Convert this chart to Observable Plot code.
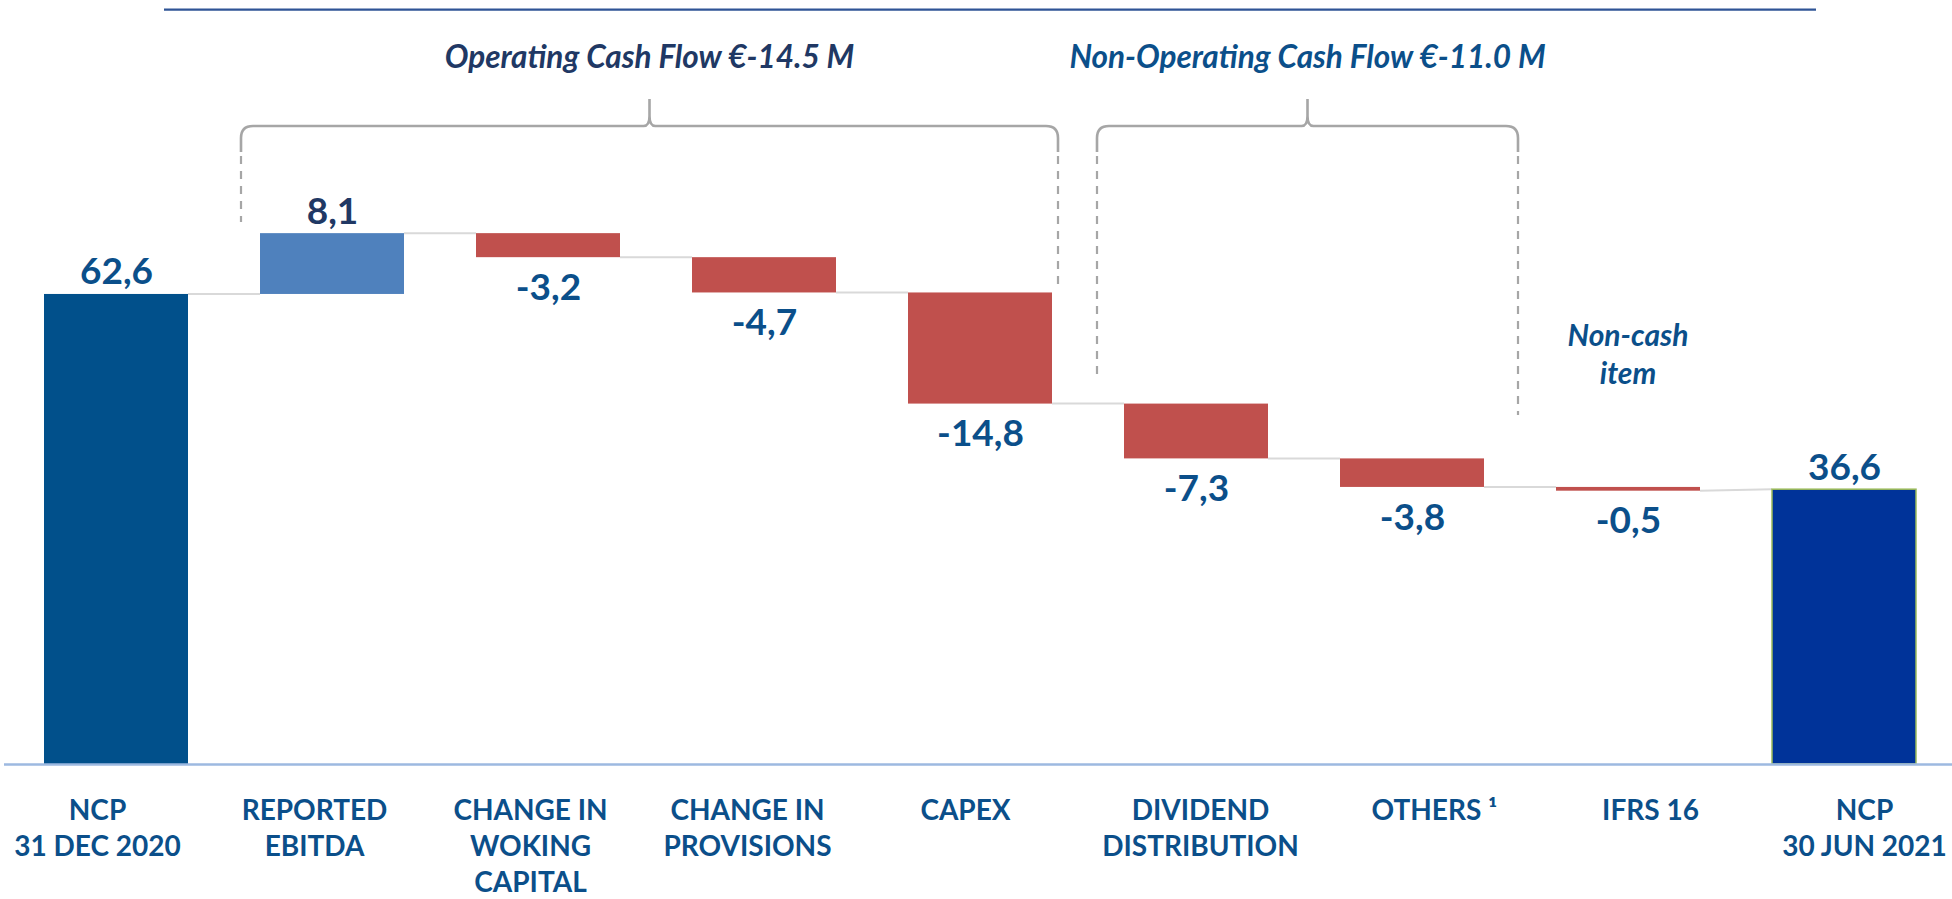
<!DOCTYPE html>
<html><head><meta charset="utf-8">
<script src="https://cdn.jsdelivr.net/npm/d3@7"></script>
<script src="https://cdn.jsdelivr.net/npm/@observablehq/plot@0.6"></script>
<style>
html,body{margin:0;padding:0;background:#fff;overflow:hidden}
#chart svg{display:block}
</style></head><body><div id="chart"></div>
<script>
// ---- data ----
const categories = ["NCP\n31 DEC 2020", "REPORTED\nEBITDA", "CHANGE IN\nWOKING\nCAPITAL", "CHANGE IN\nPROVISIONS", "CAPEX", "DIVIDEND\nDISTRIBUTION", "OTHERS \u00B9", "IFRS 16", "NCP\n30 JUN 2021"];
const values = [62.6, 8.1, -3.2, -4.7, -14.8, -7.3, -3.8, -0.5, 36.6];
const kinds = ["start", "up", "down", "down", "down", "down", "down", "down", "end"];
const groupTitles = ["Operating Cash Flow \u20AC-14.5 M", "Non-Operating Cash Flow \u20AC-11.0 M"];
const noteLines = ["Non-cash", "item"];

// ---- styles ----
const fills = {start: "#01508B", up: "#4F81BD", down: "#C0504D", end: "#003399"};
const blue = "#0B4F8A", navy = "#203864";
const fmt = v => v.toFixed(1).replace(".", ",");
const labelDx = [-19, -18, -18, -17, -15, 4, 22, 22, 20];
const FONT = "Lato, 'Open Sans', sans-serif";

// ---- waterfall layout ----
let run = 0;
const rows = categories.map((c, i) => {
  const v = values[i], k = kinds[i];
  let a, b;
  if (k === "start" || k === "end") { a = 0; b = v; if (k === "start") run = v; }
  else { a = run; b = run + v; run = b; }
  return {cat: c, value: v, kind: k, lo: Math.min(a, b), hi: Math.max(a, b),
          levelIn: k === "end" ? v : a, levelOut: b};
});

const W = 1952, H = 899;
const plot = Plot.plot({
  width: W, height: H,
  marginLeft: 4, marginRight: 0, marginTop: 0, marginBottom: 135,
  x: {domain: categories, range: [41, 1919], paddingInner: 0.333, paddingOuter: 0, axis: null},
  y: {domain: [0, 101.75], axis: null},
  color: {type: "identity"},
  style: {fontFamily: FONT, background: "#fff"},
  marks: [
    Plot.barY(rows, {x: "cat", y1: "lo", y2: "hi", fill: d => fills[d.kind],
      stroke: d => d.kind === "end" ? "#9BBB59" : "none", strokeWidth: 1.5}),
    Plot.ruleY([0], {stroke: "#9DB9E0", strokeWidth: 2.5}),
    Plot.text(rows.filter(d => d.value > 0), {x: "cat", y: "hi", text: d => fmt(d.value),
      dy: -10, lineAnchor: "bottom", fontSize: 37, fontWeight: 700,
      fill: d => d.kind === "up" ? navy : blue}),
    Plot.text(rows.filter(d => d.value < 0), {x: "cat", y: "lo", text: d => fmt(d.value),
      dy: 16, lineAnchor: "top", fontSize: 37, fontWeight: 700, fill: blue}),
    ...categories.map((c, i) => Plot.text([c], {x: d => d, frameAnchor: "bottom", text: d => d,
      dy: 30, dx: labelDx[i], lineAnchor: "top", lineHeight: 1.29, fontSize: 28, fontWeight: 700, fill: blue}))
  ]
});
document.getElementById("chart").appendChild(plot);

// ---- annotations via the plot's scales ----
const svg = d3.select(plot);
const xs = plot.scale("x"), ys = plot.scale("y");
const bw = xs.bandwidth;
const left = c => xs.apply(c), right = c => xs.apply(c) + bw;
const y = v => ys.apply(v);

// connectors
const g = svg.insert("g", ":first-child");
for (let i = 0; i < rows.length - 1; i++) {
  g.append("line").attr("x1", right(rows[i].cat)).attr("x2", left(rows[i + 1].cat))
    .attr("y1", y(rows[i].levelOut)).attr("y2", y(rows[i + 1].levelIn))
    .attr("stroke", "#D9D9D9").attr("stroke-width", 2);
}

// top rule
svg.append("line").attr("x1", 164).attr("x2", 1816).attr("y1", 9.7).attr("y2", 9.7)
  .attr("stroke", "#2F5496").attr("stroke-width", 2.2);

// braces
function brace(xl, xr, yDashL, yDashR) {
  const xm = (xl + xr) / 2, yh = 126, r = 12;
  const d = `M${xl},152 L${xl},${yh + r} Q${xl},${yh} ${xl + r},${yh} L${xm - 6},${yh} Q${xm},${yh} ${xm},${yh - 10} L${xm},99 L${xm},${yh - 10} Q${xm},${yh} ${xm + 6},${yh} L${xr - r},${yh} Q${xr},${yh} ${xr},${yh + r} L${xr},152`;
  svg.append("path").attr("d", d).attr("fill", "none").attr("stroke", "#A6A6A6").attr("stroke-width", 2.6);
  [[xl, yDashL], [xr, yDashR]].forEach(([x, ye]) => {
    svg.append("line").attr("x1", x).attr("x2", x).attr("y1", 156).attr("y2", ye)
      .attr("stroke", "#A6A6A6").attr("stroke-width", 2.2).attr("stroke-dasharray", "8,7");
  });
  return xm;
}
const m1 = brace(left(categories[1]) - 19, right(categories[4]) + 6, 222, 287);
const m2 = brace(left(categories[5]) - 27, right(categories[6]) + 34, 380, 415);

const titleStyle = s => s.attr("text-anchor", "middle").attr("font-family", FONT)
  .attr("font-weight", 700).attr("font-style", "italic");
titleStyle(svg.append("text")).attr("x", m1).attr("y", 68).attr("font-size", 31.5).attr("fill", navy).text(groupTitles[0]);
titleStyle(svg.append("text")).attr("x", m2).attr("y", 68).attr("font-size", 31.5).attr("fill", blue).text(groupTitles[1]);

const noteX = left(categories[7]) + bw / 2;
noteLines.forEach((t, i) => {
  titleStyle(svg.append("text")).attr("x", noteX).attr("y", 346 + i * 38).attr("font-size", 30).attr("fill", blue).text(t);
});
</script>
</body></html>
